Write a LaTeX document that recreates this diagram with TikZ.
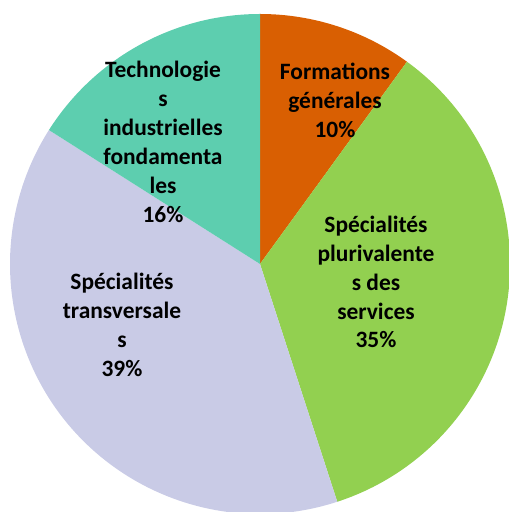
\documentclass[tikz,border=0pt]{standalone}
\usepackage{fontspec}
\setmainfont{Carlito}
\definecolor{formcol}{RGB}{217,95,2}
\definecolor{pluricol}{RGB}{146,208,80}
\definecolor{transcol}{RGB}{201,203,230}
\definecolor{technocol}{RGB}{93,206,175}
\tikzset{
  lab/.style={align=center,font=\bfseries\fontsize{20}{24.7}\selectfont,text=black}
}
\begin{document}
\begin{tikzpicture}[x=0.03cm,y=0.03cm]
        \useasboundingbox (0,0) rectangle (508,512);
        \coordinate (c) at (260,248);
        \fill[formcol] (c) -- ++(90:250) arc[start angle=90,end angle=54,radius=250] -- cycle;
        \fill[pluricol] (c) -- ++(54:250) arc[start angle=54,end angle=-72,radius=250] -- cycle;
        \fill[transcol] (c) -- ++(-72:250) arc[start angle=-72,end angle=-212.4,radius=250] -- cycle;
        \fill[technocol] (c) -- ++(147.6:250) arc[start angle=147.6,end angle=90,radius=250] -- cycle;
        \node[lab] (form) at (335,412) {Formations\\générales\\10\%};
        \node[lab] (techno) at (163,370) {Technologie\\s\\industrielles\\fondamenta\\les\\16\%};
        \node[lab] (pluri) at (376,230) {Spécialités\\plurivalente\\s des\\services\\35\%};
        \node[lab] (trans) at (122,187) {Spécialités\\transversale\\s\\39\%};
    \end{tikzpicture}
\end{document}
